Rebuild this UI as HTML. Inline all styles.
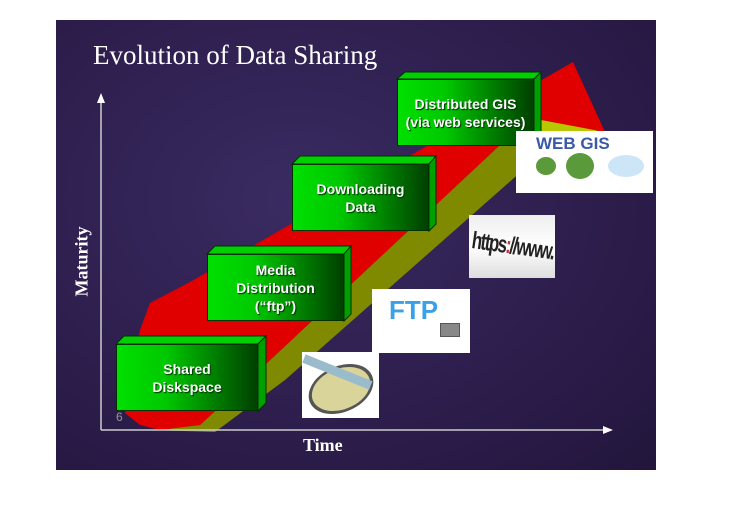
<!DOCTYPE html><html><head><style>
body{margin:0;width:742px;height:506px;background:#fff;position:relative;overflow:hidden;font-family:"Liberation Sans",sans-serif}
.s{position:absolute;left:56px;top:20px;width:600px;height:450px;background:radial-gradient(ellipse at 40% 40%,#3a2b62,#2a1b48 70%,#22163c);}
.b{position:absolute}
.f{position:absolute;background:linear-gradient(90deg,#00e000 0%,#00c800 35%,#004000 100%);color:#fff;font-weight:bold;font-size:14px;text-align:center;display:flex;align-items:center;justify-content:center;line-height:18px;border:1px solid #003000;box-sizing:border-box;text-shadow:1px 1px 1px #030}
.im{position:absolute;background:#fff;overflow:hidden}
</style></head><body>
<div class="s"></div>
<svg class="b" style="left:0;top:0" width="742" height="506">
<polygon points="150,430 200,425 267,363 500,145 541,128 605,138 540,155 285,380 215,432" fill="#7f8a00"/>
<polygon points="541,116 603,130 541,138" fill="#b8c800"/>
<polygon points="125,413 140,330 150,303 190,282 573,62 605,132 541,120 500,145 267,363 200,425 160,430 140,425" fill="#e00000"/>
<line x1="101" y1="430" x2="101" y2="100" stroke="#ccc" stroke-width="1.5"/>
<polygon points="97,103 101,93 105,103" fill="#fff"/>
<line x1="101" y1="430" x2="605" y2="430" stroke="#ccc" stroke-width="1.5"/>
<polygon points="603,426 613,430 603,434" fill="#fff"/>
<g fill="#00d000" stroke="#003000" stroke-width="1">
<polygon points="116,344 124,336 266,336 258,344"/><polygon points="207,254 215,246 351,246 344,254"/>
<polygon points="292,164 300,156 436,156 429,164"/><polygon points="397,79 405,72 541,72 534,79"/></g>
<g fill="#00a000" stroke="#003000" stroke-width="1">
<polygon points="258,344 266,336 266,403 258,411"/><polygon points="344,254 351,246 351,314 344,321"/>
<polygon points="429,164 436,156 436,224 429,231"/><polygon points="534,79 541,72 541,139 534,146"/></g>
<text x="116" y="421" fill="#999" font-size="12" font-family="Liberation Sans">6</text>
</svg>
<div class="b" style="left:93px;top:40px;color:#fff;font:27px 'Liberation Serif',serif">Evolution of Data Sharing</div>
<div class="b" style="left:303px;top:435px;color:#fff;font:bold 18px 'Liberation Serif',serif">Time</div>
<div class="b" style="left:42px;top:251px;width:80px;text-align:center;transform:rotate(-90deg);color:#fff;font:bold 18px 'Liberation Serif',serif">Maturity</div>
<div class="f" style="left:116px;top:344px;width:142px;height:67px">Shared<br>Diskspace</div>
<div class="f" style="left:207px;top:254px;width:137px;height:67px">Media<br>Distribution<br>(“ftp”)</div>
<div class="f" style="left:292px;top:164px;width:137px;height:67px">Downloading<br>Data</div>
<div class="f" style="left:397px;top:79px;width:137px;height:67px">Distributed GIS<br>(via web services)</div>
<div class="im" style="left:516px;top:131px;width:137px;height:62px"><div style="color:#3a5aa8;font:bold 17px 'Liberation Sans';position:absolute;left:20px;top:3px">WEB GIS</div><div style="position:absolute;left:20px;top:26px;width:20px;height:18px;border-radius:50%;background:#5a9a3a"></div><div style="position:absolute;left:50px;top:22px;width:28px;height:26px;border-radius:50%;background:#5a9a3a"></div><div style="position:absolute;left:92px;top:24px;width:36px;height:22px;border-radius:50%;background:#cde6f7"></div></div>
<div class="im" style="left:469px;top:215px;width:86px;height:63px;background:linear-gradient(#eee,#fff 50%,#ddd)"><div style="position:absolute;left:3px;top:12px;font:bold 24px 'Liberation Sans';letter-spacing:-2px;color:#222;transform:rotate(8deg) scaleX(.7);transform-origin:left;white-space:nowrap">https<span style="color:#c33">:</span>//www.</div></div>
<div class="im" style="left:372px;top:289px;width:98px;height:64px"><div style="position:absolute;left:17px;top:6px;font:bold 26px 'Liberation Sans';color:#3aa0e8">FTP</div><div style="position:absolute;left:68px;top:34px;width:18px;height:12px;background:#888;border:1px solid #555"></div></div>
<div class="im" style="left:302px;top:352px;width:77px;height:66px"><div style="position:absolute;left:8px;top:12px;width:56px;height:44px;border-radius:50%;background:#d8d49a;border:3px solid #555;transform:skewX(-20deg)"></div><div style="position:absolute;left:2px;top:2px;width:72px;height:9px;background:#9bc;transform:rotate(22deg);transform-origin:left"></div></div>
</body></html>
